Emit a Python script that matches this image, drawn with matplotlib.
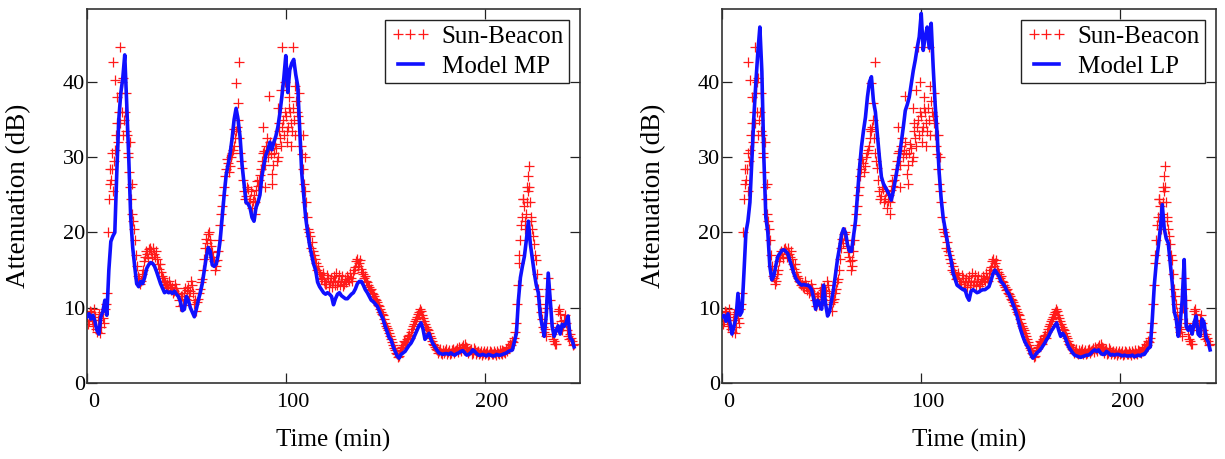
import numpy as np
import matplotlib
matplotlib.use("Agg")
import matplotlib.pyplot as plt
from matplotlib.transforms import ScaledTranslation

# ---------------- data ----------------
time_min = list(range(0, 246))

beacon_db = [
    9.0, 8.2, 9.5, 7.6, 8.8, 6.8, 9.2, 7.5, 8.6, 9.8,
    12.0, 24.5, 27.0, 25.5, 31.0, 34.5, 36.0, 38.5, 40.5, 36.0,
    33.0, 28.0, 24.5, 21.5, 19.0, 15.5, 14.0, 13.5, 15.0, 16.8,
    17.2, 17.8, 17.5, 17.9, 16.8, 16.5, 15.2, 14.8, 14.0, 13.4,
    13.2, 12.6, 13.0, 12.8, 12.2, 12.6, 11.8, 10.2, 11.6, 12.0,
    11.2, 12.8, 12.2, 13.0, 10.5, 9.6, 11.2, 12.5, 13.8, 16.5,
    19.2, 19.8, 19.0, 17.4, 16.2, 15.6, 17.5, 21.0, 23.5, 26.0,
    28.5, 29.2, 28.8, 30.5, 31.5, 33.5, 35.0, 30.5, 28.6, 25.5,
    24.8, 25.8, 24.5, 23.2, 25.0, 25.6, 26.2, 27.6, 29.5, 30.8,
    31.5, 30.0, 32.0, 27.8, 30.6, 31.2, 30.0, 32.5, 34.0, 33.0,
    35.5, 34.0, 36.0, 33.5, 35.0, 37.5, 35.5, 33.0, 30.4, 26.5,
    24.0, 20.5, 19.5, 18.8, 17.0, 16.0, 15.5, 14.5, 14.0, 13.6,
    13.2, 14.0, 13.4, 12.8, 14.2, 13.5, 13.0, 14.4, 13.6, 12.9,
    13.8, 14.2, 13.5, 14.0, 14.6, 15.4, 16.5, 16.0, 15.2, 14.5,
    14.2, 13.4, 12.8, 12.5, 11.8, 11.2, 10.8, 10.2, 9.5, 9.0,
    8.0, 7.3, 6.6, 5.8, 5.0, 4.4, 3.8, 3.6, 4.6, 5.0,
    5.4, 5.8, 6.4, 6.8, 7.6, 8.2, 8.8, 9.4, 9.6, 8.6,
    7.8, 7.2, 6.6, 6.0, 5.2, 4.8, 4.4, 4.2, 4.0, 4.4,
    4.2, 3.8, 4.4, 4.0, 4.5, 4.2, 4.6, 4.8, 4.3, 5.0,
    5.2, 4.6, 4.2, 4.5, 4.0, 4.4, 4.1, 3.8, 4.2, 4.0,
    3.8, 4.2, 3.9, 4.1, 3.8, 4.0, 4.3, 3.9, 4.0, 4.4,
    4.1, 4.5, 4.8, 5.2, 5.6, 6.0, 8.0, 13.0, 19.0, 22.0,
    23.5, 22.5, 27.5, 24.0, 20.5, 18.5, 16.3, 12.5, 10.5, 8.5,
    6.8, 6.2, 14.0, 11.0, 6.5, 5.6, 5.2, 9.6, 9.2, 7.0,
    8.4, 8.0, 6.2, 6.5, 5.6, 5.2,
]

# beacon samples half a minute later (other edge of the noisy band)
half_time_min = list(np.arange(0.5, 245.0, 1.0))
beacon_half_db = [
    7.8, 9.6, 8.4, 9.8, 7.2, 8.4, 6.6, 9.4, 8.0, 10.5,
    20.0, 26.5, 28.5, 29.5, 33.0, 32.0, 34.5, 40.0, 35.0, 33.5,
    30.5, 26.0, 22.5, 20.5, 17.0, 14.2, 13.2, 14.5, 16.2, 17.6,
    16.6, 18.0, 16.8, 17.2, 17.5, 15.8, 15.8, 14.2, 13.5, 13.0,
    12.8, 13.6, 12.4, 12.0, 13.2, 12.0, 11.0, 11.5, 10.4, 12.6,
    12.4, 11.6, 13.5, 12.0, 11.0, 10.8, 12.0, 13.4, 15.0, 18.0,
    18.6, 20.0, 18.2, 16.8, 15.0, 16.4, 19.0, 22.5, 25.0, 27.5,
    29.8, 28.0, 30.0, 31.0, 32.5, 34.0, 32.5, 29.5, 27.0, 24.5,
    26.0, 24.0, 25.5, 24.2, 24.0, 26.8, 27.0, 28.5, 30.5, 29.0,
    32.5, 31.0, 30.4, 29.0, 31.8, 29.5, 33.5, 31.5, 35.0, 36.0,
    33.5, 36.5, 34.5, 36.5, 33.0, 36.0, 34.5, 31.5, 28.5, 25.5,
    22.0, 20.0, 18.0, 17.5, 16.5, 15.0, 14.8, 13.8, 14.6, 13.2,
    14.4, 12.8, 14.0, 13.6, 13.0, 14.6, 13.4, 13.0, 14.2, 13.2,
    13.4, 13.8, 14.6, 13.6, 15.0, 16.2, 15.6, 16.4, 14.8, 14.0,
    13.6, 13.0, 12.4, 12.0, 11.6, 11.0, 10.4, 9.8, 9.2, 8.5,
    7.6, 7.0, 6.2, 5.4, 4.6, 4.0, 3.5, 4.2, 4.8, 5.6,
    5.2, 6.2, 6.0, 7.2, 7.8, 8.5, 9.2, 9.8, 9.0, 8.2,
    7.4, 7.0, 6.2, 5.6, 5.0, 4.5, 4.0, 4.5, 3.8, 4.0,
    4.5, 4.1, 3.8, 4.4, 4.0, 4.4, 4.1, 4.5, 4.8, 4.4,
    4.8, 4.0, 4.4, 3.8, 4.6, 3.9, 4.3, 4.0, 3.7, 4.3,
    4.0, 3.7, 4.3, 3.9, 4.2, 3.7, 4.0, 4.4, 3.8, 4.2,
    4.0, 4.3, 4.6, 5.0, 5.4, 6.8, 10.5, 16.0, 21.0, 24.5,
    21.5, 24.0, 26.0, 21.5, 19.5, 17.0, 14.5, 11.5, 9.5, 7.5,
    7.2, 10.0, 12.5, 8.0, 5.8, 5.2, 7.5, 9.8, 8.2, 7.6,
    9.0, 7.0, 5.8, 6.0, 5.0,
]

# scattered beacon samples away from the main trace
beacon_extra_t = [11.5, 12.8, 13.2, 14.0, 15.0, 16.6, 17.5, 18.2, 19.5, 20.5,
                  21.5, 22.5, 74.2, 75.0, 75.8, 76.6, 84.5, 88.5, 89.5, 91.8,
                  93.2, 96.0, 96.5, 97.5, 98.3, 99.5, 100.5, 101.5, 102.5, 103.7,
                  104.5, 106.5, 108.5, 109.5, 217.5, 219.5, 220.5, 221.5, 222.0,
                  222.5, 223.5]
beacon_extra_db = [28.5, 30.5, 42.6, 40.3, 38.0, 44.7, 36.0, 33.0, 38.5, 30.0,
                   32.0, 26.5, 33.8, 39.8, 37.2, 42.6, 22.5, 34.0, 26.0, 38.1,
                   26.5, 36.5, 34.6, 39.0, 44.7, 40.0, 32.0, 38.0, 31.5, 44.7,
                   39.5, 38.5, 33.0, 30.0, 17.0, 24.5, 20.5, 26.0, 25.5,
                   28.8, 22.0]

model_mp_db = [
    8.8, 9.2, 8.5, 9.0, 8.2, 7.0, 6.5, 8.8, 9.5, 11.0,
    9.0, 15.0, 18.8, 19.5, 20.0, 28.0, 35.0, 38.5, 40.5, 43.6,
    37.0, 30.0, 22.0, 18.0, 15.5, 13.2, 12.8, 13.5, 13.2, 14.0,
    15.2, 15.7, 16.0, 15.9, 15.5, 14.8, 14.0, 13.2, 12.6, 12.0,
    12.2, 12.0, 12.1, 11.9, 12.2, 11.8, 11.5, 10.8, 9.6, 9.8,
    11.5, 11.0, 10.0, 9.4, 8.8, 9.8, 11.0, 12.0, 13.2, 15.0,
    16.7, 18.0, 17.5, 15.7, 15.5, 15.8, 17.0, 19.0, 22.0, 25.0,
    27.6, 29.0, 30.5, 32.5, 35.0, 36.5, 35.0, 32.7, 29.0, 26.5,
    24.0, 23.8, 23.3, 22.0, 21.5, 23.3, 24.0, 25.0, 27.5, 29.0,
    30.3, 31.0, 32.0, 31.0, 32.0, 32.8, 34.0, 35.8, 38.0, 40.5,
    43.5, 38.6, 41.6, 42.5, 43.0, 41.0, 39.5, 33.6, 28.0, 25.0,
    22.0, 20.0, 18.3, 17.0, 15.8, 15.0, 13.4, 12.8, 12.4, 12.0,
    11.8, 12.0, 11.8, 11.5, 10.4, 11.2, 11.8, 12.0, 11.6, 11.4,
    11.2, 11.2, 11.5, 11.8, 12.0, 12.5, 13.2, 13.5, 13.5, 13.0,
    12.4, 12.0, 11.5, 11.0, 10.8, 10.5, 10.2, 9.6, 9.0, 8.4,
    7.5, 6.8, 6.0, 5.7, 4.8, 4.2, 3.6, 3.3, 3.8, 4.0,
    4.2, 4.6, 5.0, 5.3, 5.8, 6.4, 7.0, 7.6, 8.0, 7.2,
    5.8, 6.2, 6.6, 5.8, 5.2, 4.8, 4.4, 4.0, 3.9, 3.8,
    3.9, 3.9, 3.8, 4.0, 3.8, 3.7, 3.9, 4.0, 4.2, 4.3,
    4.0, 3.7, 3.8, 4.0, 4.4, 4.2, 3.9, 3.7, 3.7, 3.8,
    3.7, 3.6, 3.8, 3.7, 3.6, 3.6, 3.8, 3.7, 3.7, 3.8,
    3.9, 4.0, 4.2, 4.3, 4.4, 5.5, 6.6, 11.0, 14.0, 15.5,
    16.8, 19.0, 21.5, 18.5, 16.5, 14.6, 13.0, 12.0, 9.0, 7.5,
    6.2, 9.0, 14.6, 11.0, 7.5, 6.2, 7.0, 7.6, 6.5, 7.8,
    7.5, 8.0, 8.9, 6.0, 5.7, 4.8,
]

model_lp_db = [
    8.8, 9.0, 8.2, 9.2, 8.0, 6.5, 7.5, 8.6, 11.9, 9.0,
    9.5, 14.6, 20.0, 21.5, 24.0, 29.6, 35.4, 40.0, 44.0, 47.3,
    41.4, 30.0, 22.0, 20.0, 15.5, 13.7, 14.2, 15.6, 16.8, 17.2,
    17.6, 17.7, 17.5, 17.2, 16.3, 15.5, 14.6, 13.9, 13.5, 13.2,
    13.0, 13.1, 13.0, 13.0, 12.8, 12.4, 11.2, 9.8, 11.0, 10.5,
    9.8, 13.0, 10.5, 8.9, 9.5, 11.0, 12.5, 14.5, 16.5, 18.0,
    19.7, 20.5, 20.0, 18.4, 17.5, 17.5, 19.5, 21.5, 25.0, 28.5,
    31.4, 33.5, 35.3, 38.0, 40.0, 40.7, 37.5, 36.0, 33.0, 30.0,
    27.4, 26.5, 26.0, 25.5, 25.0, 24.3, 25.5, 27.0, 28.5, 30.0,
    32.0, 34.0, 36.2, 37.0, 38.0, 39.8, 41.5, 42.9, 44.6, 46.0,
    49.1, 44.2, 46.0, 47.3, 44.5, 47.8, 42.0, 37.0, 33.0, 28.0,
    24.5, 22.0, 20.5, 19.0, 17.5, 16.3, 14.6, 13.8, 13.0, 12.8,
    12.6, 12.4, 12.4, 11.5, 11.0, 12.2, 12.4, 12.2, 12.0, 12.1,
    12.3, 12.4, 12.4, 12.6, 12.8, 13.6, 14.5, 15.0, 14.6, 14.2,
    13.5, 13.2, 12.8, 12.2, 11.8, 11.2, 10.5, 9.8, 9.0, 8.0,
    7.0, 6.2, 5.5, 5.0, 4.6, 3.8, 3.3, 3.6, 4.0, 4.2,
    4.5, 4.9, 5.3, 5.8, 6.2, 6.8, 7.2, 7.6, 8.0, 7.0,
    6.2, 6.6, 6.2, 5.5, 4.8, 4.4, 4.0, 3.7, 3.6, 3.5,
    3.4, 3.5, 3.6, 3.7, 3.7, 3.9, 4.2, 4.4, 4.2, 4.4,
    4.0, 3.8, 3.8, 4.2, 4.0, 3.7, 3.8, 3.7, 3.8, 3.8,
    3.7, 3.6, 3.7, 3.6, 3.6, 3.6, 3.7, 3.5, 3.6, 3.7,
    3.6, 3.8, 3.8, 4.2, 4.6, 4.8, 8.5, 13.0, 16.0, 18.1,
    20.5, 23.7, 20.5, 19.2, 18.6, 16.0, 13.3, 9.5, 8.5, 6.2,
    8.0, 11.0, 16.4, 7.5, 7.0, 7.6, 6.5, 8.0, 8.9, 6.5,
    6.2, 8.5, 8.0, 6.0, 5.5, 4.4,
]

x_ticks = [0, 100, 200]
y_ticks = [0, 10, 20, 30, 40]
x_label = "Time (min)"
y_label = "Attenuation (dB)"
beacon_name = "Sun-Beacon"
model_names = ["Model MP", "Model LP"]

# ---------------- figure ----------------
plt.rcParams['font.family'] = ['Liberation Serif', 'DejaVu Serif']
plt.rcParams['mathtext.fontset'] = 'stix'

fig = plt.figure(figsize=(12.25, 4.59), dpi=100)
ax_l = fig.add_axes([0.0710, 0.1656, 0.4025, 0.8148])
ax_r = fig.add_axes([0.5894, 0.1656, 0.4033, 0.8148])

red = '#ff1a1a'
blue = '#1010ff'
for ax, model, name in [(ax_l, model_mp_db, model_names[0]),
                        (ax_r, model_lp_db, model_names[1])]:
    ax.plot(time_min, beacon_db, linestyle='none', marker='+', color=red,
            markersize=7.5, markeredgewidth=0.9, label=beacon_name, zorder=2)
    ax.plot(half_time_min, beacon_half_db, linestyle='none', marker='+',
            color=red, markersize=7.5, markeredgewidth=0.9, zorder=2)
    ax.plot(beacon_extra_t, beacon_extra_db, linestyle='none', marker='+',
            color=red, markersize=7.5, markeredgewidth=0.9, zorder=2)
    ax.plot(time_min, model, color=blue, linewidth=2.6, label=name, zorder=3)

    ax.set_xlim(0, 248)
    ax.set_ylim(0, 49.7)
    ax.set_xticks(x_ticks)
    ax.set_yticks(y_ticks)
    ax.tick_params(direction='in', top=True, right=True, length=7.5,
                   width=0.9, labelsize=16, colors='#222222',
                   labelcolor='black')
    ax.tick_params(axis='x', pad=7)
    ax.tick_params(axis='y', pad=1.5)
    for lbl in ax.get_xticklabels():
        lbl.set_transform(lbl.get_transform() +
                          ScaledTranslation(5 / 72, 0, fig.dpi_scale_trans))
    for sp in ax.spines.values():
        sp.set_linewidth(1.2)
        sp.set_color('#333333')
    ax.set_xlabel(x_label, fontsize=18, va='top')
    ax.xaxis.set_label_coords(0.5, -0.122)
    ax.set_ylabel(y_label, fontsize=19.5, va='bottom')
    ax.yaxis.set_label_coords(-0.114, 0.5)

    leg = ax.legend(loc='upper right', numpoints=3, fontsize=18,
                    fancybox=False, framealpha=1, edgecolor='#222222',
                    handlelength=1.6, handletextpad=0.45, borderpad=0.2,
                    labelspacing=0.3, borderaxespad=0.45)
    leg.get_frame().set_linewidth(1.0)

fig.savefig("out.png", dpi=100)
